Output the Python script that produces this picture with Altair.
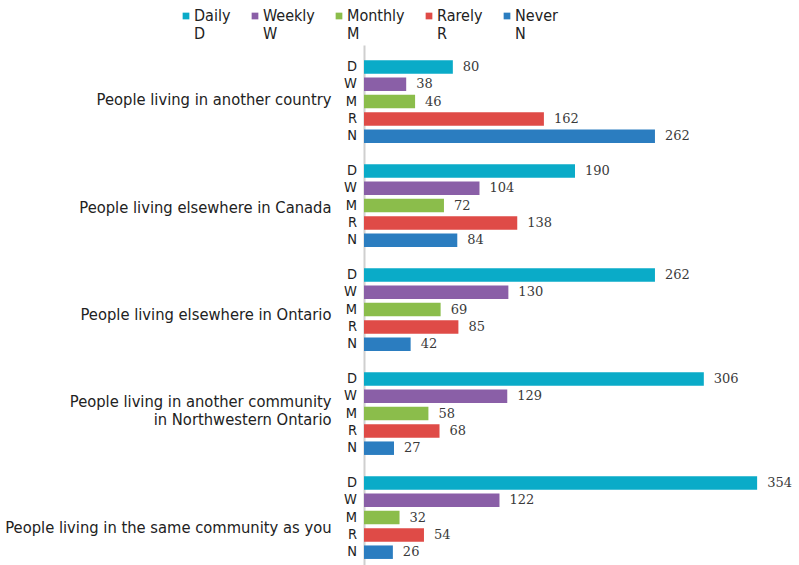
import altair as alt
import pandas as pd

groups = [
    "People living in another country",
    "People living elsewhere in Canada",
    "People living elsewhere in Ontario",
    "People living in another community|in Northwestern Ontario",
    "People living in the same community as you",
]
freqs = ["Daily", "Weekly", "Monthly", "Rarely", "Never"]
letters = ["D", "W", "M", "R", "N"]
colors = ["#0aabc8", "#8a5fa7", "#8bbd4b", "#df4b47", "#2b7dc0"]

daily = [80, 190, 262, 306, 354]
weekly = [38, 104, 130, 129, 122]
monthly = [46, 72, 69, 58, 32]
rarely = [162, 138, 85, 68, 54]
never = [262, 84, 42, 27, 26]
series = [daily, weekly, monthly, rarely, never]

rows = []
for f, l, vals in zip(freqs, letters, series):
    for g, v in zip(groups, vals):
        rows.append({"group": g, "freq": f, "letter": l, "value": v})
df = pd.DataFrame(rows)

NARROW = "Liberation Sans Narrow, DejaVu Sans Condensed, sans-serif"

label_offset = {
    "condition": [
        {"test": f"datum.value === '{groups[0]}'", "value": 3},
        {"test": f"datum.value === '{groups[2]}'", "value": 10},
        {"test": f"datum.value === '{groups[3]}'", "value": -7},
        {"test": f"datum.value === '{groups[4]}'", "value": 15},
    ],
    "value": 7,
}

y = alt.Y(
    "group:N",
    sort=groups,
    scale=alt.Scale(paddingInner=0, paddingOuter=0),
    axis=alt.Axis(
        title=None,
        ticks=False,
        domainColor="#cfcfcf",
        domainWidth=2,
        labelPadding=33,
        labelFont=NARROW,
        labelFontSize=16.4,
        labelColor="#222222",
        labelLimit=0,
        labelExpr="split(datum.label, '|')",
        labelOffset=label_offset,
    ),
)
yoff = alt.YOffset(
    "freq:N",
    sort=freqs,
    scale=alt.Scale(paddingInner=0.22, paddingOuter=0.616, align=0.716),
)
x = alt.X("value:Q", scale=alt.Scale(domain=[0, 380], nice=False), axis=None)

base = alt.Chart(df)

bars = base.mark_bar().encode(
    y=y,
    yOffset=yoff,
    x=x,
    color=alt.Color(
        "freq:N",
        sort=freqs,
        scale=alt.Scale(domain=freqs, range=colors),
        legend=alt.Legend(
            title=None,
            orient="none",
            legendX=-196,
            legendY=-37,
            direction="horizontal",
            columns=5,
            symbolType="square",
            symbolSize=45,
            symbolOpacity=1,
            symbolOffset=10,
            labelExpr="[datum.label, substring(datum.label, 0, 1)]",
            labelFont=NARROW,
            labelFontSize=16,
            labelColor="#222222",
            labelOffset=0,
            columnPadding=6,
        ),
    ),
)

values = base.mark_text(
    align="left", dx=10, font="DejaVu Serif", fontSize=13, color="#3a3a3a"
).encode(y=y, yOffset=yoff, x=x, text="value:Q")

lets = base.mark_text(
    align="right", font=NARROW, fontSize=14.5, color="#222222"
).encode(y=y, yOffset=yoff, x=alt.value(-7), text="letter:N")

chart = (
    alt.layer(bars, values, lets)
    .properties(
        width=422,
        height=520,
        autosize=alt.AutoSizeParams(type="none"),
        padding={"left": 364, "top": 45, "right": 13, "bottom": 0},
        background="white",
    )
    .configure_view(stroke=None)
)

chart.save("out.html", embed_options={"renderer": "svg", "actions": False})
